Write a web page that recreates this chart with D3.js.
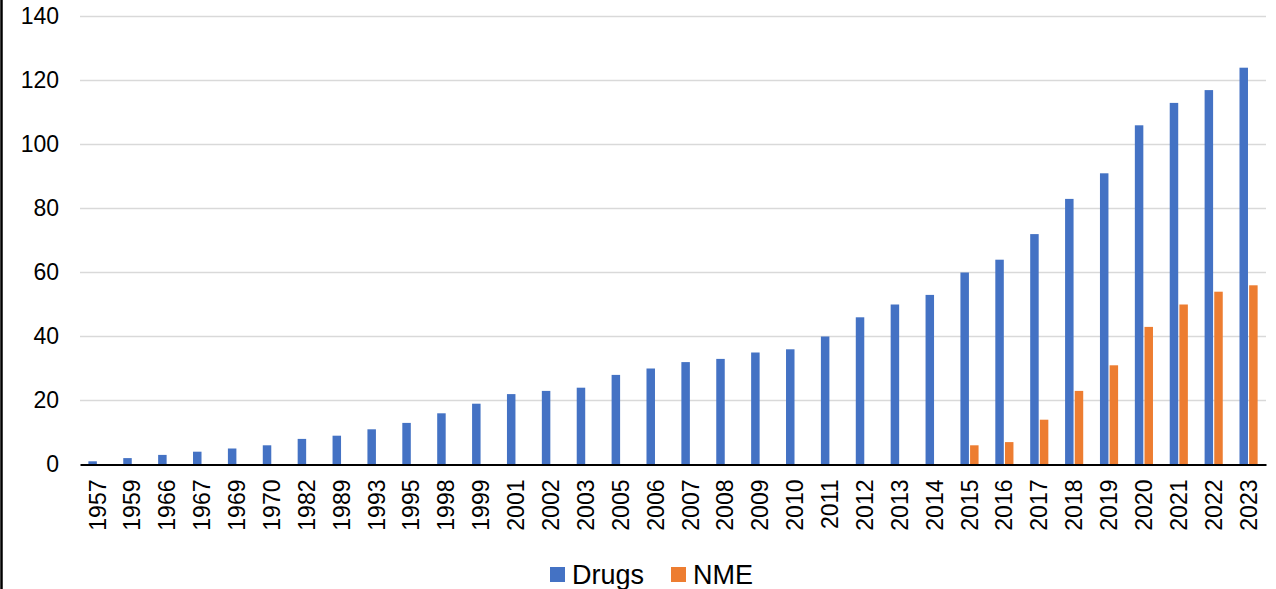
<!DOCTYPE html>
<html>
<head>
<meta charset="utf-8">
<script src="https://cdn.jsdelivr.net/npm/d3@7"></script>
<style>
  body { margin: 0; background: #fff; }
  svg { display: block; font-family: Arial, "Liberation Sans", sans-serif; }
</style>
</head>
<body>
<svg id="chart" width="1276" height="589"></svg>
<script>
// Data
const years = ['1957', '1959', '1966', '1967', '1969', '1970', '1982', '1989', '1993', '1995',
    '1998', '1999', '2001', '2002', '2003', '2005', '2006', '2007', '2008', '2009', '2010',
    '2011', '2012', '2013', '2014', '2015', '2016', '2017', '2018', '2019', '2020', '2021',
    '2022', '2023'];
const drugs = [1, 2, 3, 4, 5, 6, 8, 9, 11, 13, 16, 19, 22, 23, 24, 28, 30, 32, 33, 35, 36,
    40, 46, 50, 53, 60, 64, 72, 83, 91, 106, 113, 117, 124];
const nme = [0, 0, 0, 0, 0, 0, 0, 0, 0, 0, 0, 0, 0, 0, 0, 0, 0, 0, 0, 0, 0,
    0, 0, 0, 0, 6, 7, 14, 23, 31, 43, 50, 54, 56];
const seriesNames = ['Drugs', 'NME'];
const yTicks = [0, 20, 40, 60, 80, 100, 120, 140];

const colors = { Drugs: '#4472C4', NME: '#ED7D31' };
const fontSize = '23px';
const legendFontSize = '27px';

const svg = d3.select('#chart');
const margin = { left: 80, right: 10, top: 16.5, bottom: 124.5 };
const width = 1276 - margin.left - margin.right;
const height = 589 - margin.top - margin.bottom;

// left frame edge
svg.append('line')
    .attr('x1', 1.5).attr('x2', 1.5)
    .attr('y1', 0).attr('y2', 589)
    .attr('stroke', '#000').attr('stroke-width', 2.5);

const g = svg.append('g').attr('transform', `translate(${margin.left},${margin.top})`);

const x = d3.scaleBand().domain(years).range([0, width]).paddingInner(0.48).paddingOuter(0.24);
const xSub = d3.scaleBand().domain(seriesNames).range([0, x.bandwidth()]).paddingInner(0.12);
const y = d3.scaleLinear().domain([0, 140]).range([height, 0]);

// gridlines
g.append('g')
    .selectAll('line')
    .data(yTicks.filter(d => d > 0))
    .join('line')
    .attr('x1', 0).attr('x2', width)
    .attr('y1', d => y(d)).attr('y2', d => y(d))
    .attr('stroke', '#d9d9d9').attr('stroke-width', 1.5);

// y axis labels
const yAxis = g.append('g').call(d3.axisLeft(y).tickValues(yTicks).tickSize(0).tickPadding(21));
yAxis.select('.domain').remove();
yAxis.selectAll('text').attr('font-size', fontSize).attr('fill', '#000')
    .attr('font-family', 'Arial, "Liberation Sans", sans-serif');

// bars
const rows = years.map((yr, i) => ({ year: yr, Drugs: drugs[i], NME: nme[i] }));
const groups = g.append('g').selectAll('g')
    .data(rows)
    .join('g')
    .attr('transform', d => `translate(${x(d.year)},0)`);

groups.selectAll('rect')
    .data(d => seriesNames.map(k => ({ key: k, value: d[k] })).filter(s => s.value > 0))
    .join('rect')
    .attr('x', d => xSub(d.key))
    .attr('width', xSub.bandwidth())
    .attr('y', d => y(d.value))
    .attr('height', d => y(0) - y(d.value))
    .attr('fill', d => colors[d.key]);

// x axis
const xAxis = g.append('g')
    .attr('transform', `translate(0,${height})`)
    .call(d3.axisBottom(x).tickSize(0).tickPadding(15));
xAxis.select('.domain').attr('stroke', '#000').attr('stroke-width', 2);
xAxis.selectAll('text')
    .attr('font-size', fontSize).attr('fill', '#000')
    .attr('font-family', 'Arial, "Liberation Sans", sans-serif')
    .attr('transform', 'rotate(-90)')
    .attr('text-anchor', 'end')
    .attr('dy', '0.35em')
    .attr('x', -15)
    .attr('y', 0);

// legend
const legend = svg.append('g').attr('transform', 'translate(550,567)');
const items = [{ name: 'Drugs', x: 0 }, { name: 'NME', x: 121 }];
items.forEach(it => {
    legend.append('rect')
        .attr('x', it.x).attr('y', 0)
        .attr('width', 15).attr('height', 15)
        .attr('fill', colors[it.name]);
    legend.append('text')
        .attr('x', it.x + 22).attr('y', 17)
        .attr('font-size', legendFontSize)
        .attr('fill', '#000')
        .text(it.name);
});
</script>
</body>
</html>
